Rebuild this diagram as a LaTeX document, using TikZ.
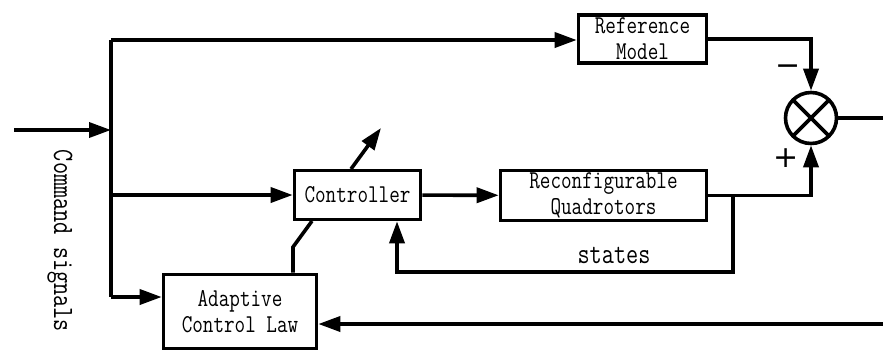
\documentclass[tikz,border=0pt]{standalone}
\usepackage{fontspec}
\newfontfamily\blockfont[FakeStretch=0.8]{Latin Modern Mono}
\newfontfamily\signfont{DejaVu Sans}
\usetikzlibrary{positioning, arrows.meta, calc}

\tikzset{
	block/.style={draw, line width=3.6pt, font=\blockfont\fontsize{25.7}{26}\selectfont, align=center, inner sep=0pt},
	wire/.style={line width=3.6pt},
	sig/.style={wire, -{Triangle[length=22pt, width=15pt]}},
	note/.style={font=\blockfont\fontsize{29.5}{30}\selectfont},
	sign/.style={font=\signfont\fontsize{30}{30}\selectfont, inner sep=0pt},
}

\begin{document}
\begin{tikzpicture}[x=1pt, y=-1pt]
	\useasboundingbox (0,0) rectangle (883,354);
	% blocks
	\node[block, minimum width=128pt, minimum height=48pt] (ref) at (642.5,39) {Reference\\Model};
	\node[block, minimum width=126pt, minimum height=49pt] (ctrl) at (357.5,195) {Controller};
	\node[block, minimum width=206pt, minimum height=50pt] (quad) at (603.5,195.5) {Reconfigurable\\Quadrotors};
	\node[block, minimum width=153pt, minimum height=74pt] (acl) at (240,311.5) {Adaptive\\Control Law};
	\node[draw, circle, line width=3.6pt, minimum size=51pt, inner sep=0pt] (sum) at (811,118) {};
	\draw[wire] ($(sum.center)+(45:25.5pt)$) -- ($(sum.center)+(225:25.5pt)$);
	\draw[wire] ($(sum.center)+(135:25.5pt)$) -- ($(sum.center)+(315:25.5pt)$);
	% signal points
	\coordinate (cmd) at (14,130);
	\coordinate (bus) at (111,130);
	\coordinate (bustop) at (111,40);
	\coordinate (busmid) at (111,195);
	\coordinate (busbot) at (111,297);
	\coordinate (out) at (883,118);
	\coordinate (branch) at (733,195.5);
	\coordinate (fbcorner) at (397,272);
	\coordinate (errin) at (883,324);
	\coordinate (tunebend) at (293,247);
	\coordinate (tunein) at (312,221);
	\coordinate (tuneout) at (351,169);
	\coordinate (tunetip) at (381,128);
	% connections
	\draw[sig] (cmd) -- (bus);
	\draw[wire] (bustop) -- (busbot);
	\draw[sig] (bustop) -- (ref.west |- bustop);
	\draw[sig] (busmid) -- (ctrl.west);
	\draw[sig] (busbot) -- (busbot -| acl.west);
	\draw[sig] (ref.east) -| (sum.north);
	\draw[sig] (quad.east) -| (sum.south);
	\draw[wire] (sum.east) -- (out);
	\draw[sig] (ctrl) -- (quad);
	\draw[sig] (branch) |- (fbcorner) -- (fbcorner |- ctrl.south);
	\draw[sig] (errin) -- (errin -| acl.east);
	\draw[wire] (tunebend |- acl.north) -- (tunebend) -- (tunein);
	\draw[sig] (tuneout) -- (tunetip);
	% labels
	\node[note] (states) at (614,255) {states};
	\node[note, rotate=-90] (cmdlabel) at (60,241) {Command signals};
	\node[sign] (minus) at (788,70) {−};
	\node[sign] (plus) at (786,158) {+};
\end{tikzpicture}
\end{document}
